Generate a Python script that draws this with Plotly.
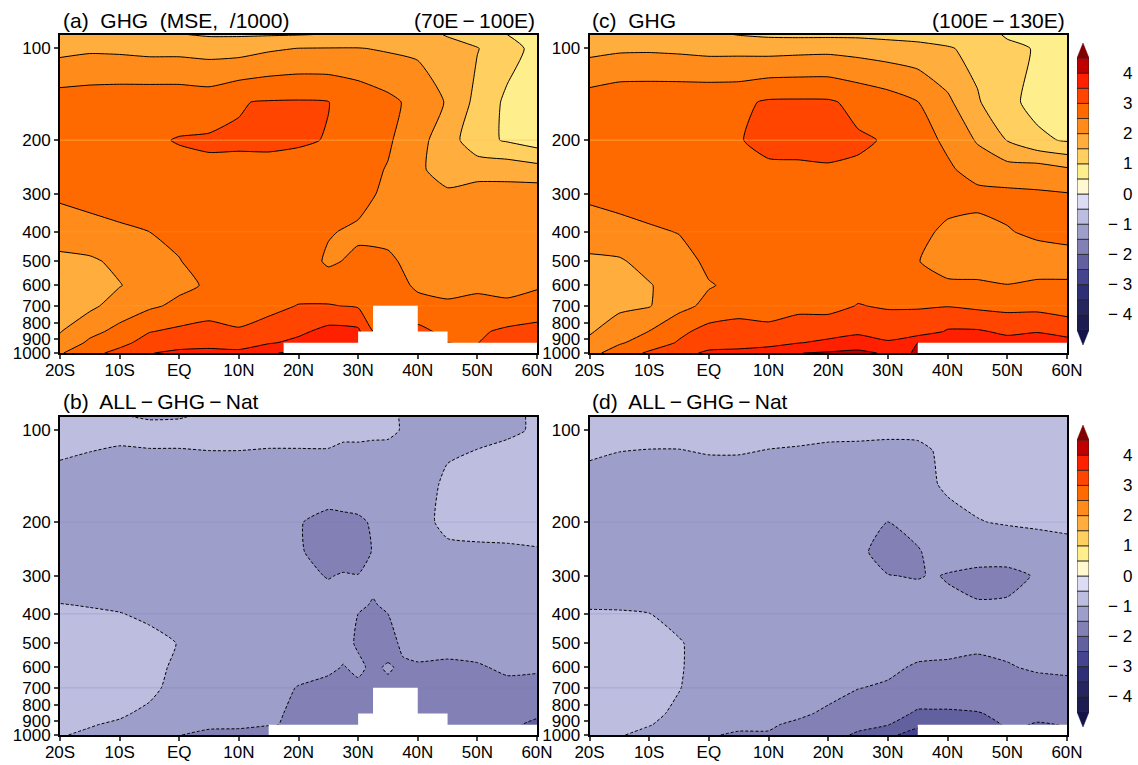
import plotly.graph_objects as go

W, H = 1138, 765
FONT = "Liberation Sans"

levels = [90, 100, 150, 200, 250, 300, 400, 500, 600, 700, 850, 925, 1000]
levels_b = [90, 100, 150, 200, 250, 300, 375, 400, 500, 600, 700, 850, 925, 1000]
lat_common = [-20, -15, -10, -5, 0, 5, 10, 15, 20, 25, 30, 35, 40, 45, 50, 55, 60]
lat_b = [-20, -15, -10, -5, 0, 5, 10, 15, 20, 25, 27.5, 30, 32.5, 35, 37.5, 40, 45, 50, 55, 60]
lat_d = [-20, -15, -10, -5, 0, 5, 10, 15, 20, 25, 30, 35, 37.5, 40, 45, 50, 55, 60]

z_a = [
    [1.6, 1.62, 1.62, 1.58, 1.52, 1.45, 1.45, 1.46, 1.48, 1.52, 1.58, 1.6, 1.6, 1.48, 1.3, 1.0, 0.8],
    [1.85, 1.92, 1.9, 1.85, 1.85, 1.8, 1.8, 1.93, 2.01, 2.02, 2.02, 1.95, 1.9, 1.6, 1.52, 1.2, 0.85],
    [2.74, 2.77, 2.8, 2.82, 2.82, 2.78, 2.98, 3.03, 3.04, 3.01, 2.82, 2.62, 2.35, 1.95, 1.35, 0.9, 0.8],
    [2.8, 2.85, 2.9, 2.95, 3.02, 3.05, 3.03, 3.08, 3.05, 2.98, 2.75, 2.57, 2.15, 1.75, 1.15, 0.95, 0.75],
    [2.8, 2.85, 2.9, 2.95, 2.9, 2.93, 2.95, 2.88, 2.85, 2.78, 2.68, 2.47, 2.06, 1.85, 1.8, 1.8, 1.7],
    [2.6, 2.7, 2.8, 2.85, 2.9, 2.9, 2.9, 2.85, 2.8, 2.68, 2.65, 2.4, 2.2, 2.05, 2.2, 2.2, 2.25],
    [2.2, 2.3, 2.4, 2.5, 2.62, 2.78, 2.85, 2.8, 2.72, 2.53, 2.43, 2.42, 2.3, 2.2, 2.3, 2.3, 2.3],
    [1.9, 1.93, 2.1, 2.3, 2.48, 2.72, 2.75, 2.78, 2.72, 2.44, 2.58, 2.55, 2.4, 2.35, 2.35, 2.4, 2.35],
    [1.75, 1.8, 1.98, 2.2, 2.4, 2.55, 2.7, 2.75, 2.78, 2.7, 2.9, 2.65, 2.45, 2.4, 2.42, 2.42, 2.46],
    [1.8, 1.9, 2.2, 2.42, 2.6, 2.72, 2.8, 2.85, 3.02, 3.03, 2.95, 2.85, 2.6, 2.55, 2.62, 2.55, 2.65],
    [1.98, 2.35, 2.65, 2.98, 3.1, 3.2, 3.04, 3.22, 3.4, 3.65, 3.6, 2.4, 3.15, 2.85, 2.92, 3.1, 3.2],
    [2.1, 2.6, 2.85, 3.2, 3.3, 3.35, 3.3, 3.45, 3.62, 3.75, 3.7, 3.3, 3.3, 3.0, 2.99, 3.2, 3.3],
    [2.45, 2.85, 3.15, 3.48, 3.6, 3.62, 3.6, 3.95, 4.1, 4.0, 3.9, 3.6, 3.5, 3.2, 3.1, 3.3, 3.4],
]

z_c = [
    [1.65, 1.75, 1.75, 1.72, 1.6, 1.48, 1.42, 1.4, 1.4, 1.4, 1.35, 1.3, 1.25, 1.2, 0.95, 0.85, 0.75],
    [1.85, 1.92, 1.93, 1.9, 1.85, 1.85, 1.82, 1.85, 1.87, 1.82, 1.75, 1.68, 1.55, 1.35, 1.1, 0.97, 0.8],
    [2.74, 2.85, 2.86, 2.87, 2.88, 2.9, 3.06, 3.07, 3.06, 2.88, 2.72, 2.51, 2.1, 1.55, 1.12, 0.85, 0.8],
    [2.8, 2.9, 2.92, 2.95, 2.95, 2.99, 3.05, 3.08, 3.1, 3.05, 2.97, 2.72, 2.4, 1.95, 1.48, 1.1, 0.95],
    [2.82, 2.9, 2.92, 2.97, 2.97, 2.97, 2.97, 2.96, 2.97, 2.95, 2.95, 2.72, 2.58, 2.3, 2.2, 2.25, 2.08],
    [2.62, 2.72, 2.8, 2.88, 2.92, 2.92, 2.9, 2.92, 2.92, 2.88, 2.88, 2.72, 2.62, 2.62, 2.6, 2.55, 2.52],
    [2.2, 2.3, 2.42, 2.52, 2.72, 2.85, 2.85, 2.88, 2.85, 2.8, 2.78, 2.58, 2.44, 2.38, 2.48, 2.56, 2.62],
    [1.93, 1.95, 2.15, 2.3, 2.6, 2.75, 2.8, 2.85, 2.82, 2.75, 2.75, 2.52, 2.25, 2.25, 2.3, 2.35, 2.35],
    [1.75, 1.82, 1.97, 2.2, 2.47, 2.6, 2.75, 2.82, 2.85, 2.85, 2.8, 2.68, 2.6, 2.58, 2.51, 2.55, 2.55],
    [1.75, 1.92, 1.97, 2.35, 2.62, 2.75, 2.8, 2.85, 2.85, 3.02, 2.95, 2.97, 2.98, 2.9, 2.85, 2.85, 2.78],
    [1.96, 2.2, 2.51, 2.88, 3.18, 3.25, 3.12, 3.3, 3.3, 3.42, 3.3, 3.2, 3.55, 3.55, 3.42, 3.48, 3.3],
    [2.08, 2.45, 2.7, 3.05, 3.3, 3.35, 3.4, 3.48, 3.6, 3.7, 3.55, 4.01, 3.6, 3.65, 3.65, 3.7, 3.7],
    [2.35, 2.72, 3.08, 3.35, 3.58, 3.6, 3.65, 3.99, 4.05, 4.12, 3.93, 4.02, 3.8, 3.8, 3.7, 3.8, 3.8],
]

z_b = [
    [-.85, -.85, -.98, -1.03, -1.02, -.95, -.88, -.85, -.85, -.85, -.88, -.9, -.9, -.95, -1.02, -1.05, -1.1, -1.1, -1.08, -.95],
    [-.85, -.9, -.92, -.9, -.9, -.88, -.88, -.9, -.9, -.9, -.95, -.95, -.96, -.97, -1.01, -1.02, -1.08, -1.08, -1.03, -.98],
    [-1.12, -1.15, -1.2, -1.2, -1.2, -1.2, -1.2, -1.2, -1.2, -1.2, -1.18, -1.18, -1.18, -1.15, -1.15, -1.12, -.95, -.85, -.85, -.85],
    [-1.2, -1.25, -1.25, -1.3, -1.3, -1.3, -1.3, -1.35, -1.47, -1.65, -1.62, -1.58, -1.45, -1.3, -1.25, -1.2, -.85, -.8, -.8, -.85],
    [-1.2, -1.25, -1.25, -1.3, -1.35, -1.35, -1.35, -1.4, -1.45, -1.7, -1.68, -1.65, -1.48, -1.35, -1.3, -1.25, -1.12, -1.1, -1.08, -1.03],
    [-1.15, -1.15, -1.2, -1.25, -1.3, -1.35, -1.35, -1.4, -1.4, -1.52, -1.47, -1.49, -1.4, -1.38, -1.3, -1.28, -1.2, -1.2, -1.15, -1.12],
    [-.99, -1.01, -1.04, -1.1, -1.18, -1.27, -1.31, -1.34, -1.32, -1.35, -1.33, -1.44, -1.53, -1.44, -1.34, -1.31, -1.24, -1.24, -1.2, -1.18],
    [-.95, -.97, -.99, -1.05, -1.15, -1.25, -1.3, -1.32, -1.3, -1.3, -1.3, -1.5, -1.55, -1.5, -1.35, -1.32, -1.25, -1.25, -1.22, -1.2],
    [-.85, -.85, -.85, -.92, -1.01, -1.2, -1.28, -1.3, -1.3, -1.3, -1.38, -1.55, -1.75, -1.7, -1.4, -1.4, -1.35, -1.3, -1.28, -1.28],
    [-.8, -.8, -.8, -.85, -1.1, -1.2, -1.28, -1.32, -1.35, -1.42, -1.52, -1.42, -1.58, -1.45, -1.58, -1.53, -1.58, -1.55, -1.42, -1.45],
    [-.8, -.8, -.82, -.9, -1.15, -1.25, -1.3, -1.35, -1.52, -1.62, -1.65, -1.58, -1.75, -1.6, -1.7, -1.7, -1.68, -1.65, -1.62, -1.62],
    [-.88, -.9, -.95, -1.08, -1.3, -1.35, -1.38, -1.45, -1.55, -1.7, -1.7, -1.75, -1.85, -1.8, -1.8, -1.8, -1.75, -1.75, -1.75, -1.92],
    [-.92, -.98, -1.05, -1.15, -1.38, -1.42, -1.45, -1.49, -1.52, -1.72, -1.72, -1.8, -1.9, -1.85, -1.85, -1.85, -1.8, -1.8, -1.9, -2.1],
    [-.98, -1.05, -1.15, -1.25, -1.49, -1.6, -1.58, -1.6, -1.6, -1.8, -1.8, -1.85, -1.9, -1.9, -1.9, -1.9, -1.85, -1.85, -1.95, -2.15],
]

z_d = [
    [-.78, -.8, -.82, -.83, -.85, -.85, -.85, -.85, -.88, -.88, -.88, -.88, -.88, -.82, -.82, -.8, -.8, -.8],
    [-.87, -.9, -.92, -.92, -.9, -.9, -.92, -.93, -.95, -.95, -.96, -.97, -.97, -.82, -.82, -.8, -.8, -.8],
    [-1.1, -1.15, -1.15, -1.15, -1.12, -1.12, -1.15, -1.17, -1.18, -1.2, -1.2, -1.13, -1.05, -.9, -.85, -.85, -.83, -.82],
    [-1.2, -1.22, -1.22, -1.25, -1.25, -1.25, -1.25, -1.3, -1.32, -1.32, -1.51, -1.28, -1.2, -1.2, -1.02, -.96, -.92, -.88],
    [-1.22, -1.25, -1.25, -1.3, -1.3, -1.3, -1.3, -1.32, -1.35, -1.42, -1.65, -1.55, -1.35, -1.35, -1.35, -1.32, -1.25, -1.18],
    [-1.15, -1.18, -1.2, -1.25, -1.3, -1.3, -1.3, -1.33, -1.38, -1.38, -1.49, -1.52, -1.48, -1.52, -1.58, -1.6, -1.47, -1.35],
    [-.98, -.98, -.995, -1.12, -1.22, -1.25, -1.28, -1.3, -1.32, -1.32, -1.32, -1.3, -1.4, -1.42, -1.45, -1.42, -1.32, -1.3],
    [-.85, -.85, -.85, -.97, -1.15, -1.25, -1.28, -1.3, -1.33, -1.33, -1.33, -1.33, -1.38, -1.4, -1.42, -1.4, -1.35, -1.32],
    [-.8, -.8, -.8, -.95, -1.25, -1.3, -1.3, -1.33, -1.35, -1.38, -1.42, -1.55, -1.55, -1.55, -1.6, -1.53, -1.45, -1.42],
    [-.8, -.8, -.8, -.98, -1.25, -1.3, -1.35, -1.38, -1.4, -1.49, -1.55, -1.75, -1.75, -1.75, -1.75, -1.7, -1.65, -1.62],
    [-.82, -.82, -.88, -1.1, -1.3, -1.35, -1.4, -1.45, -1.55, -1.7, -1.85, -2.05, -2.05, -2.05, -2.02, -1.92, -1.93, -1.9],
    [-.85, -.86, -.98, -1.15, -1.35, -1.45, -1.47, -1.55, -1.65, -1.82, -1.98, -2.45, -2.4, -2.2, -2.2, -1.95, -2.02, -1.99],
    [-.88, -.97, -1.12, -1.2, -1.48, -1.53, -1.52, -1.6, -1.75, -2.1, -2.45, -2.6, -2.6, -2.3, -2.3, -2.0, -2.05, -2.02],
]

# Terrain blocks: each block runs from the previous edge to this edge, top pressure given
mask_edges_ab = [30, 32.5, 40, 45, 60]
mask_tops_ab = [925, 850, 700, 850, 925]
mask_start_a = 17.5
mask_start_b = 15
mask_edges_cd = [60]
mask_tops_cd = [925]
mask_start_cd = 35

band_colors = [
    "#14144a", "#1c1c50", "#25255f", "#2f2f75", "#45458f", "#6360a0", "#8280b5", "#9e9ecb",
    "#bdbde0", "#dcdcf5", "#fff8d0", "#ffee8c", "#ffd060", "#ffad3d", "#ff8c1a", "#ff6a00",
    "#ff4500", "#ff2000", "#c00000", "#800000",
]
band_edges = [-4.5 + 0.5 * i for i in range(19)]
cb_ticks = [4, 3, 2, 1, 0, -1, -2, -3, -4]

xtick_vals = [-20, -10, 0, 10, 20, 30, 40, 50, 60]
xtick_text = ["20S", "10S", "EQ", "10N", "20N", "30N", "40N", "50N", "60N"]
ytick_vals = [100, 200, 300, 400, 500, 600, 700, 800, 900, 1000]
seam_levels = [200, 400, 700]

panels = [
    dict(name="a", lats=lat_common, lev=levels, z=z_a, box=(60, 537, 35, 353), dash="solid", start=mask_start_a, edges=mask_edges_ab, tops=mask_tops_ab, seam="255,190,90", alpha=[.6, .2, .2]),
    dict(name="b", lats=lat_b, lev=levels_b, z=z_b, box=(60, 537, 417, 735), dash="3px,2px", start=mask_start_b, edges=mask_edges_ab, tops=mask_tops_ab, seam="120,120,180", alpha=[.2, .3, .3]),
    dict(name="c", lats=lat_common, lev=levels, z=z_c, box=(589.5, 1067, 35, 353), dash="solid", start=mask_start_cd, edges=mask_edges_cd, tops=mask_tops_cd, seam="255,190,90", alpha=[.6, .2, .2]),
    dict(name="d", lats=lat_d, lev=levels, z=z_d, box=(589.5, 1067, 417, 735), dash="3px,2px", start=mask_start_cd, edges=mask_edges_cd, tops=mask_tops_cd, seam="120,120,180", alpha=[.2, .3, .3]),
]
titles = [
    ("(a)  GHG  (MSE,  /1000)", 61, 20, "left"),
    ("(70E\u2009\u2212\u2009100E)", 537, 20, "right"),
    ("(c)  GHG", 590, 20, "left"),
    ("(100E\u2009\u2212\u2009130E)", 1067, 20, "right"),
    ("(b)  ALL\u2009\u2212\u2009GHG\u2009\u2212\u2009Nat", 61, 401, "left"),
    ("(d)  ALL\u2009\u2212\u2009GHG\u2009\u2212\u2009Nat", 590, 401, "left"),
]
colorbars = [(1077, 1089, 43, 345), (1077, 1089, 425, 727)]

def fx(px):
    return px / W

def fy(px):
    return 1 - px / H

colorscale = [[i / 19, c] for i, c in enumerate(band_colors)]
fig = go.Figure()
layout = dict(
    template="none", width=W, height=H, margin=dict(l=0, r=0, t=0, b=0, pad=0), paper_bgcolor="white",
    plot_bgcolor="white", showlegend=False, font=dict(family=FONT, size=17, color="black"), barmode="overlay",
)
annotations = []

axis_no = 0
for p in panels:
    axis_no += 1
    sx = "" if axis_no == 1 else str(axis_no)
    l, r, t, b = p["box"]
    fig.add_trace(go.Contour(
        x=p["lats"], y=p["lev"], z=p["z"], xaxis="x" + sx, yaxis="y" + sx, autocontour=False,
        contours=dict(start=-4.5, end=4.5, size=0.5, coloring="fill", showlines=True),
        colorscale=colorscale, showscale=False, hoverinfo="skip",
        line=dict(color="black", width=1, dash=p["dash"], smoothing=0.5),
    ))
    for lev, alpha in zip(seam_levels, p["alpha"]):
        fig.add_trace(go.Scatter(
            x=[-20, 60], y=[lev, lev], xaxis="x" + sx, yaxis="y" + sx, mode="lines",
            line=dict(color=f"rgba({p['seam']},{alpha})", width=1), hoverinfo="skip",
        ))
    mx, my = [p["start"]], [1000]
    prev = p["start"]
    for edge, top in zip(p["edges"], p["tops"]):
        mx += [prev, edge]
        my += [top, top]
        prev = edge
    mx.append(prev)
    my.append(1000)
    fig.add_trace(go.Scatter(
        x=mx, y=my, xaxis="x" + sx, yaxis="y" + sx, mode="lines", fill="toself", fillcolor="white",
        line=dict(color="white", width=0), hoverinfo="skip",
    ))
    layout["xaxis" + sx] = dict(
        domain=[fx(l), fx(r)], range=[-20, 60], tickvals=xtick_vals, ticktext=xtick_text, ticks="outside",
        ticklen=4, tickwidth=1.5, showline=True, linewidth=2, linecolor="black", mirror=True, showgrid=False,
        zeroline=False, anchor="y" + sx, tickfont=dict(size=17), layer="above traces", automargin=False,
        ticklabelstandoff=-3,
    )
    layout["yaxis" + sx] = dict(
        domain=[fy(b), fy(t)], type="log", range=[3, 1.9557], tickvals=ytick_vals,
        ticktext=[str(v) for v in ytick_vals], ticks="outside", ticklen=4, tickwidth=1.5, showline=True,
        linewidth=2, linecolor="black", mirror=True, showgrid=False, zeroline=False, anchor="x" + sx,
        tickfont=dict(size=17), layer="above traces", automargin=False,
    )

for cb in colorbars:
    axis_no += 1
    sx = str(axis_no)
    l, r, t, b = cb
    for low, col in zip(band_edges[:-1], band_colors[1:-1]):
        fig.add_trace(go.Bar(
            x=[0], y=[0.5], base=[low], width=[1], xaxis="x" + sx, yaxis="y" + sx, hoverinfo="skip",
            marker=dict(color=col, line=dict(color="#222222", width=0.8)),
        ))
    e0, e1 = band_edges[0], band_edges[-1]
    for tip, edge, col in [(e1 + 0.5, e1, band_colors[-1]), (e0 - 0.5, e0, band_colors[0])]:
        fig.add_trace(go.Scatter(
            x=[-0.5, 0, 0.5, -0.5], y=[edge, tip, edge, edge], xaxis="x" + sx, yaxis="y" + sx, mode="lines",
            fill="toself", fillcolor=col, line=dict(color=col, width=0.5), hoverinfo="skip",
        ))
    layout["xaxis" + sx] = dict(domain=[fx(l), fx(r)], range=[-0.5, 0.5], visible=False, anchor="y" + sx, automargin=False)
    layout["yaxis" + sx] = dict(domain=[fy(b), fy(t)], range=[e0 - 0.5, e1 + 0.5], visible=False, anchor="x" + sx, automargin=False)
    for v in cb_ticks:
        annotations.append(dict(
            text=str(v).replace("-", "\u2212 "), xref="paper", yref="y" + sx, x=fx(1134), y=v, xanchor="right",
            yanchor="middle", showarrow=False, font=dict(size=17),
        ))

for text, x, y, side in titles:
    annotations.append(dict(
        text=text, xref="paper", yref="paper", x=fx(x), y=fy(y), xanchor=side, yanchor="middle",
        showarrow=False, font=dict(size=21),
    ))

layout["annotations"] = annotations
fig.update_layout(**layout)
fig.write_html("out.html", config={"displayModeBar": False}, post_script="document.body.style.margin='0';")
